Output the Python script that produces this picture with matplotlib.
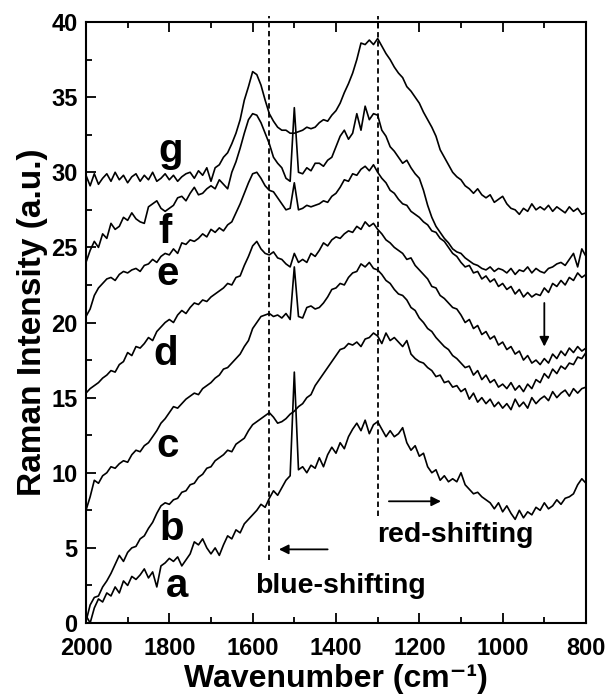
import numpy as np
import matplotlib
matplotlib.use("Agg")
import matplotlib.pyplot as plt
from matplotlib.ticker import MultipleLocator

plt.rcParams.update({
    "font.family": ["Liberation Sans", "DejaVu Sans"],
    "font.weight": "bold",
    "axes.linewidth": 1.5,
})

# Raman shift grid, cm^-1 (2000 -> 800, every 10)
wavenumber = np.arange(2000, 799, -10)

spec_a = [0.5, 0.0, 1.0, 1.6, 1.4, 2.0, 1.8, 2.4, 2.0, 2.8,
          2.5, 3.1, 2.9, 3.2, 3.6, 3.0, 3.4, 2.4, 3.8, 4.0,
          4.3, 4.1, 4.4, 3.8, 4.2, 4.6, 5.4, 5.2, 5.6, 5.0,
          4.6, 5.0, 4.5, 5.2, 5.8, 5.6, 6.2, 6.0, 6.6, 6.9,
          7.2, 7.5, 7.9, 7.7, 8.3, 8.8, 8.5, 9.0, 9.5, 9.8,
          16.7, 10.2, 10.4, 10.0, 10.5, 10.3, 11.0, 10.4, 11.2, 11.7,
          11.3, 12.0, 11.6, 12.4, 12.9, 13.3, 12.8, 13.5, 12.6, 13.2,
          13.4, 12.9, 12.4, 12.8, 12.4, 12.6, 13.0, 12.0, 11.5, 11.8,
          11.1, 11.3, 10.4, 10.0, 10.2, 9.5, 9.8, 9.4, 9.6, 9.4,
          10.0, 9.2, 8.9, 8.6, 8.7, 8.4, 8.2, 8.0, 7.6, 8.0,
          7.4, 7.8, 7.3, 6.9, 7.5, 7.0, 7.4, 7.2, 7.7, 7.5,
          8.0, 7.6, 7.8, 8.2, 7.9, 8.3, 8.4, 8.6, 9.2, 9.6,
          9.3]

spec_b = [0.1, 1.2, 1.7, 1.8, 2.4, 2.8, 3.3, 3.9, 4.5, 4.1,
          4.7, 5.0, 5.1, 5.6, 5.8, 6.3, 6.7, 7.3, 7.8, 8.0,
          7.9, 8.2, 8.3, 8.7, 8.8, 9.2, 9.3, 9.7, 9.9, 10.3,
          10.4, 10.8, 11.0, 11.2, 11.5, 11.4, 11.9, 12.1, 12.3, 12.8,
          13.2, 13.4, 13.6, 13.8, 14.0, 13.7, 13.3, 13.4, 13.6, 13.9,
          14.1, 14.4, 14.6, 15.0, 15.2, 15.8, 16.2, 16.6, 17.0, 17.4,
          17.8, 18.2, 18.3, 18.6, 18.5, 18.7, 18.4, 18.9, 19.0, 19.3,
          19.1, 18.6, 19.3, 18.8, 19.0, 18.7, 18.4, 18.8, 17.9, 17.6,
          17.4, 17.3, 17.0, 16.8, 16.4, 16.5, 16.0, 16.1, 15.7, 15.8,
          15.4, 15.6, 14.9, 15.3, 14.7, 15.0, 14.6, 14.9, 14.4, 14.7,
          14.3, 14.6, 14.2, 14.9, 14.4, 14.7, 14.3, 15.0, 14.6, 14.9,
          15.1, 14.8, 15.4, 15.0, 15.3, 15.5, 15.1, 15.6, 15.3, 15.6,
          15.7]

spec_c = [7.5, 8.4, 9.5, 9.3, 9.8, 10.0, 10.4, 10.3, 10.6, 10.8,
          10.7, 11.2, 11.5, 11.4, 11.8, 12.0, 12.4, 12.8, 13.3, 13.6,
          14.0, 14.4, 14.3, 14.6, 14.9, 15.1, 15.3, 15.2, 15.6, 15.8,
          16.0, 16.3, 16.5, 16.9, 17.0, 17.3, 17.6, 17.9, 18.4, 18.8,
          19.6, 20.0, 20.4, 20.5, 20.6, 20.4, 20.5, 20.3, 20.6, 20.2,
          23.7, 20.4, 20.3, 21.0, 21.1, 20.9, 21.0, 21.3, 21.7, 22.2,
          22.3, 22.6, 22.5, 23.0, 23.3, 23.4, 23.9, 23.7, 24.0, 23.6,
          23.5, 23.2, 22.8, 22.6, 22.2, 21.9, 21.8, 21.5, 21.0, 20.8,
          20.3, 20.0, 19.6, 19.4, 19.0, 18.7, 18.4, 18.2, 17.8, 17.6,
          17.3, 17.0, 17.1, 16.5, 16.8, 16.2, 16.5, 16.0, 16.2, 15.7,
          15.9, 15.6, 16.0, 15.5, 15.8, 15.4, 15.9, 15.6, 16.2, 16.0,
          16.6, 16.3, 16.9, 16.6, 17.1, 16.9, 17.3, 17.2, 17.7, 17.6,
          18.0]

spec_d = [15.3, 15.6, 15.8, 16.0, 16.3, 16.5, 16.8, 16.7, 17.2, 17.4,
          18.0, 17.8, 18.4, 18.3, 18.6, 19.0, 18.8, 19.4, 19.7, 20.0,
          20.2, 20.0, 20.5, 20.8, 20.6, 21.0, 21.3, 21.2, 21.5, 21.4,
          21.7, 21.9, 22.1, 22.3, 22.6, 22.5, 23.0, 23.1, 23.8, 24.4,
          25.1, 25.4, 24.9, 24.6, 24.5, 24.7, 24.3, 24.2, 23.9, 23.7,
          24.6, 24.0, 24.2, 24.0, 24.6, 24.4, 24.8, 25.3, 25.1, 25.5,
          25.7, 25.6, 25.9, 26.1, 26.0, 26.4, 26.2, 26.7, 26.4, 26.6,
          26.2, 25.9, 25.5, 25.3, 25.0, 24.8, 24.6, 24.2, 24.3, 23.8,
          23.5, 23.2, 22.9, 22.4, 22.3, 21.8, 21.6, 21.3, 21.0, 20.9,
          20.5, 20.0, 20.2, 19.6, 19.8, 19.2, 19.4, 18.9, 19.1, 18.5,
          18.7, 18.2, 18.4, 17.9, 18.1, 17.5, 17.8, 17.3, 17.5, 17.2,
          17.6, 17.3, 17.9, 17.6, 18.1, 17.8, 18.3, 18.0, 18.4, 18.1,
          18.3]

spec_e = [20.4, 20.9, 21.8, 22.3, 22.6, 22.9, 23.0, 22.8, 23.2, 23.4,
          23.3, 23.5, 23.6, 23.4, 23.8, 23.9, 24.2, 24.0, 24.4, 24.6,
          24.5, 24.9, 24.6, 25.3, 25.2, 25.5, 25.4, 25.6, 25.9, 25.7,
          26.2, 26.0, 26.3, 26.1, 26.5, 26.7, 27.3, 27.9, 28.6, 29.3,
          29.9, 30.0, 29.6, 29.1, 28.8, 28.7, 28.3, 27.9, 27.5, 27.6,
          29.3, 27.5, 27.6, 27.8, 27.7, 27.8, 27.9, 28.1, 28.0, 28.4,
          28.6, 29.0, 29.5, 29.4, 29.9, 29.8, 30.2, 30.4, 30.1, 30.5,
          30.0, 29.6, 29.3, 28.8, 28.6, 28.2, 27.9, 27.8, 27.4, 27.2,
          27.0, 26.7, 26.5, 26.1, 26.0, 25.6, 25.4, 25.0, 24.6, 24.4,
          24.0, 23.7, 23.8, 23.3, 23.4, 22.9, 23.1, 22.7, 22.9, 22.4,
          22.6, 22.2, 22.4, 21.9, 22.2, 21.7, 22.0, 21.7, 21.9, 21.8,
          22.3, 22.0, 22.6, 22.4, 22.8, 22.5, 23.0, 22.8, 23.3, 23.0,
          23.2]

spec_f = [24.0, 24.8, 25.4, 25.0, 25.9, 25.6, 26.6, 26.2, 26.4, 27.0,
          26.8, 27.3, 26.9, 26.7, 26.6, 27.7, 27.9, 28.1, 27.6, 27.4,
          27.6, 27.8, 28.3, 28.4, 28.1, 28.6, 29.0, 28.5, 28.6, 28.9,
          29.1, 28.9, 29.5, 29.2, 28.9, 30.0, 30.7, 31.6, 32.6, 33.5,
          33.9, 33.8, 33.3, 32.6, 31.9, 31.0, 30.6, 30.3, 29.6, 29.4,
          34.3, 30.0, 29.9, 30.3, 30.1, 30.6, 30.6, 30.4, 30.8, 31.0,
          31.7, 32.4, 32.8, 32.2, 32.6, 33.9, 32.8, 34.4, 33.5, 33.9,
          33.8, 32.8, 32.4, 31.7, 31.4, 31.0, 30.6, 30.8, 30.3, 29.9,
          29.6, 28.8, 27.8, 27.0, 26.4, 26.0, 25.6, 25.3, 24.9, 24.7,
          24.6, 24.3, 24.1, 23.9, 23.8, 23.6, 23.5, 23.7, 23.4, 23.6,
          23.5, 23.3, 23.6, 23.2, 23.5, 23.4, 23.7, 23.3, 23.6, 23.4,
          23.3, 23.6, 23.7, 23.9, 24.0, 23.8, 24.2, 24.6, 23.7, 24.9,
          24.4]

spec_g = [29.8, 29.1, 29.9, 29.2, 29.6, 29.9, 29.4, 30.0, 29.5, 29.8,
          29.3, 29.7, 29.9, 29.4, 29.8, 29.5, 30.0, 29.4, 29.6, 29.9,
          29.5, 29.8, 29.4, 29.7, 29.9, 30.0, 29.6, 30.1, 29.8, 30.3,
          29.4, 30.3, 30.5, 31.0, 31.3, 31.9, 32.6, 33.5, 34.8, 35.7,
          36.7, 36.5, 35.8, 34.8, 33.9, 33.4, 33.0, 32.8, 32.8, 32.6,
          32.6, 32.7, 32.8, 33.0, 32.9, 33.0, 33.3, 33.5, 33.4, 33.8,
          34.1, 34.6, 35.3, 35.9, 36.6, 37.5, 38.6, 38.5, 38.8, 38.5,
          38.9, 38.4, 37.9, 37.5, 37.0, 36.6, 36.3, 35.7, 35.4, 35.0,
          34.6, 34.0, 33.5, 33.0, 32.4, 31.5, 31.0, 30.5, 30.0, 29.7,
          29.5, 29.1, 28.9, 28.6, 28.9, 28.5, 28.3, 28.5, 28.0, 28.2,
          28.4, 27.9, 27.6, 27.5, 27.2, 27.6, 27.4, 27.9, 27.5, 27.7,
          27.5, 27.8, 27.4, 27.7, 27.5, 27.3, 27.7, 27.4, 27.6, 27.2,
          27.3]

spectra = [spec_a, spec_b, spec_c, spec_d, spec_e, spec_f, spec_g]
letters = ["a", "b", "c", "d", "e", "f", "g"]
letter_x = [1782, 1794, 1803, 1808, 1805, 1810, 1797]
letter_y = [1.75, 5.5, 11.05, 17.2, 22.5, 25.3, 30.7]

band_lines = [1560, 1300]        # marker positions, cm^-1
band_line_bottom = [4.2, 7.1]

fig = plt.figure(figsize=(6.08, 6.95), dpi=100)
ax = fig.add_axes([0.1414, 0.1036, 0.8224, 0.8647])

for s in spectra:
    ax.plot(wavenumber, s, color="k", lw=1.2)

for xb, yb in zip(band_lines, band_line_bottom):
    ax.plot([xb, xb], [yb, 40.4], color="k", lw=1.3, ls=(0, (3, 2)), clip_on=False)

for lab, lx, ly in zip(letters, letter_x, letter_y):
    ax.text(lx, ly, lab, fontsize=29, fontweight="bold", ha="center", va="baseline")

arrow = dict(arrowstyle="-|>", color="k", lw=1.3, mutation_scale=14, shrinkA=0, shrinkB=0)
ax.annotate("", xy=(1537, 4.9), xytext=(1420, 4.9), arrowprops=arrow)
ax.annotate("", xy=(1148, 8.1), xytext=(1273, 8.1), arrowprops=arrow)
ax.annotate("", xy=(900, 18.4), xytext=(900, 21.3), arrowprops=arrow)
ax.text(1389, 2.0, "blue-shifting", fontsize=20.5, fontweight="bold", ha="center", va="baseline")
ax.text(1114, 5.4, "red-shifting", fontsize=20.5, fontweight="bold", ha="center", va="baseline")

ax.set_xlim(2000, 800)
ax.set_ylim(0, 40)
ax.xaxis.set_major_locator(MultipleLocator(200))
ax.xaxis.set_minor_locator(MultipleLocator(100))
ax.yaxis.set_major_locator(MultipleLocator(5))
ax.yaxis.set_minor_locator(MultipleLocator(2.5))
ax.tick_params(which="both", direction="in", top=True, right=False, width=1.3)
ax.tick_params(which="major", length=7, labelsize=17)
ax.tick_params(axis="x", which="major", pad=10)
ax.tick_params(axis="y", which="major", pad=6)
ax.tick_params(which="minor", length=4)
for t in ax.get_xticklabels() + ax.get_yticklabels():
    t.set_fontweight("bold")

fig.text(336 / 608, 1 - 687 / 695, "Wavenumber (cm\u207b\u00b9)", fontsize=23,
         fontweight="bold", ha="center", va="baseline")
ax.set_ylabel("Raman Intensity (a.u.)", fontsize=24, fontweight="bold", labelpad=2)

fig.savefig("out.png", dpi=100)
